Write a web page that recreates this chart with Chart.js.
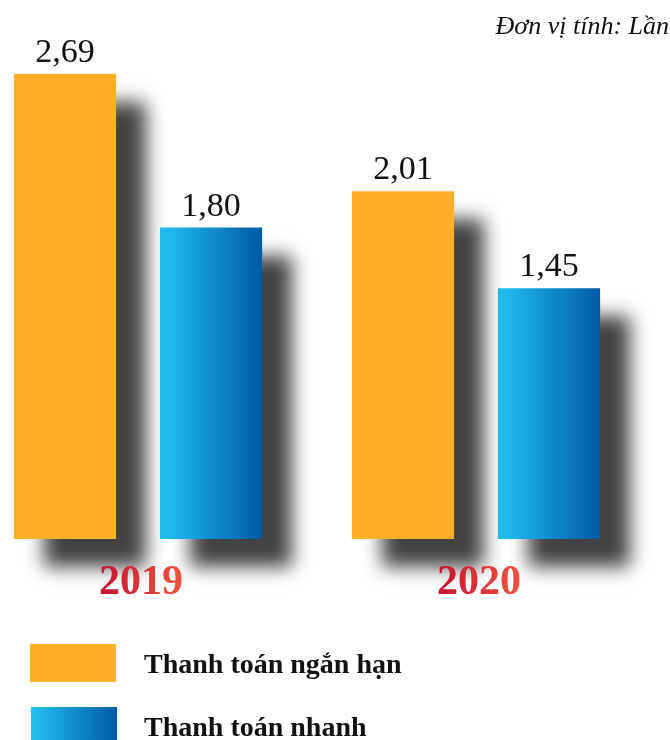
<!DOCTYPE html>
<html>
<head>
<meta charset="utf-8">
<script src="https://cdn.jsdelivr.net/npm/chart.js@4.4.0/dist/chart.umd.min.js"></script>
<style>
  html, body { margin: 0; padding: 0; background: #fff; overflow: hidden; }
  /* canvas sits a bit left of the page so the two groups land where the original has them */
  #wrap { position: absolute; left: -31px; top: 0; width: 701px; height: 740px; }
</style>
</head>
<body>
<div id="wrap"><canvas id="chart"></canvas></div>
<script>
// data
const years = ["2019", "2020"];
const shortTerm = [2.69, 2.01];   // Thanh toán ngắn hạn
const quick = [1.80, 1.45];       // Thanh toán nhanh
const seriesNames = ["Thanh toán ngắn hạn", "Thanh toán nhanh"];
const unitNote = "Đơn vị tính: Lần";

// look
const ORANGE = "#FFAF26";
const BLUE_L = "#22C3F2";
const BLUE_D = "#005AA5";
const SHIFT = 31;        // canvas offset vs page
const CAT_PCT = 0.864;
const BAR_PCT = 0.70;

function fmt(v) {
    return v.toFixed(2).replace(".", ",");
}

// horizontal gradient for each blue bar, worked out from the x scale
function blueFill(c) {
    const chart = c.chart;
    const xs = chart.scales.x;
    const area = chart.chartArea;
    if (!area || !xs || c.dataIndex === undefined) return BLUE_D;
    const cat = area.width / years.length;
    const slot = cat * CAT_PCT / 2;
    const w = slot * BAR_PCT;
    const cx = xs.getPixelForValue(c.dataIndex) + slot / 2;
    const g = chart.ctx.createLinearGradient(cx - w / 2, 0, cx + w / 2, 0);
    g.addColorStop(0, BLUE_L);
    g.addColorStop(1, BLUE_D);
    return g;
}

/* ============ drop shadow behind the bars ============ */
const shadowPlugin = {
    id: "barShadow",
    beforeDatasetsDraw(chart) {
        const ctx = chart.ctx;
        ctx.save();
        ctx.shadowColor = "rgba(0,0,0,0.74)";
        ctx.shadowBlur = 18;
        ctx.shadowOffsetX = 30;
        ctx.shadowOffsetY = 28;
    },
    afterDatasetsDraw(chart) {
        chart.ctx.restore();
    }
};

/* ============ value labels, years, unit, legend ============ */
const textPlugin = {
    id: "texts",
    afterDraw(chart) {
        const ctx = chart.ctx;
        ctx.save();

        // values above bars
        ctx.fillStyle = "#111";
        ctx.font = '34px "Liberation Serif"';
        ctx.textAlign = "center";
        ctx.textBaseline = "alphabetic";
        chart.data.datasets.forEach((ds, i) => {
            chart.getDatasetMeta(i).data.forEach((bar, j) => {
                ctx.fillText(fmt(ds.data[j]), bar.x, bar.y - 12);
            });
        });

        // year labels
        ctx.font = 'bold 42px "Liberation Serif"';
        years.forEach((y, i) => {
            const x = chart.scales.x.getPixelForValue(i) + 3;
            const g = ctx.createLinearGradient(x - 44, 0, x + 44, 0);
            g.addColorStop(0, "#C3122F");
            g.addColorStop(1, "#F25540");
            ctx.fillStyle = g;
            ctx.fillText(y, x, 594);
        });

        // unit note top right
        ctx.fillStyle = "#111";
        ctx.font = 'italic 26px "Liberation Serif"';
        ctx.textAlign = "right";
        ctx.fillText(unitNote, 669 + SHIFT, 34);

        // legend
        const boxes = [
            { x: 30, y: 644 },
            { x: 31, y: 707 }
        ];
        ctx.textAlign = "left";
        ctx.font = 'bold 28px "Liberation Serif"';
        seriesNames.forEach((name, i) => {
            const bx = boxes[i].x + SHIFT, by = boxes[i].y;
            if (i === 0) {
                ctx.fillStyle = ORANGE;
            } else {
                const g = ctx.createLinearGradient(bx, 0, bx + 86, 0);
                g.addColorStop(0, BLUE_L);
                g.addColorStop(1, BLUE_D);
                ctx.fillStyle = g;
            }
            ctx.fillRect(bx, by, 86, 38);
            ctx.fillStyle = "#111";
            ctx.fillText(name, 144 + SHIFT, by + 29);
        });

        ctx.restore();
    }
};

new Chart(document.getElementById("chart"), {
    type: "bar",
    data: {
        labels: years,
        datasets: [
            {
                label: seriesNames[0],
                data: shortTerm,
                backgroundColor: ORANGE,
                categoryPercentage: CAT_PCT,
                barPercentage: BAR_PCT,
                borderWidth: 0,
                clip: false
            },
            {
                label: seriesNames[1],
                data: quick,
                backgroundColor: blueFill,
                categoryPercentage: CAT_PCT,
                barPercentage: BAR_PCT,
                borderWidth: 0,
                clip: false
            }
        ]
    },
    options: {
        responsive: true,
        maintainAspectRatio: false,
        animation: false,
        layout: { padding: { top: 20, right: 25, bottom: 201, left: 0 } },
        scales: {
            x: { display: false },
            y: { display: false, min: 0, max: 3 }
        },
        plugins: {
            legend: { display: false },
            tooltip: { enabled: false }
        }
    },
    plugins: [shadowPlugin, textPlugin]
});
</script>
</body>
</html>
